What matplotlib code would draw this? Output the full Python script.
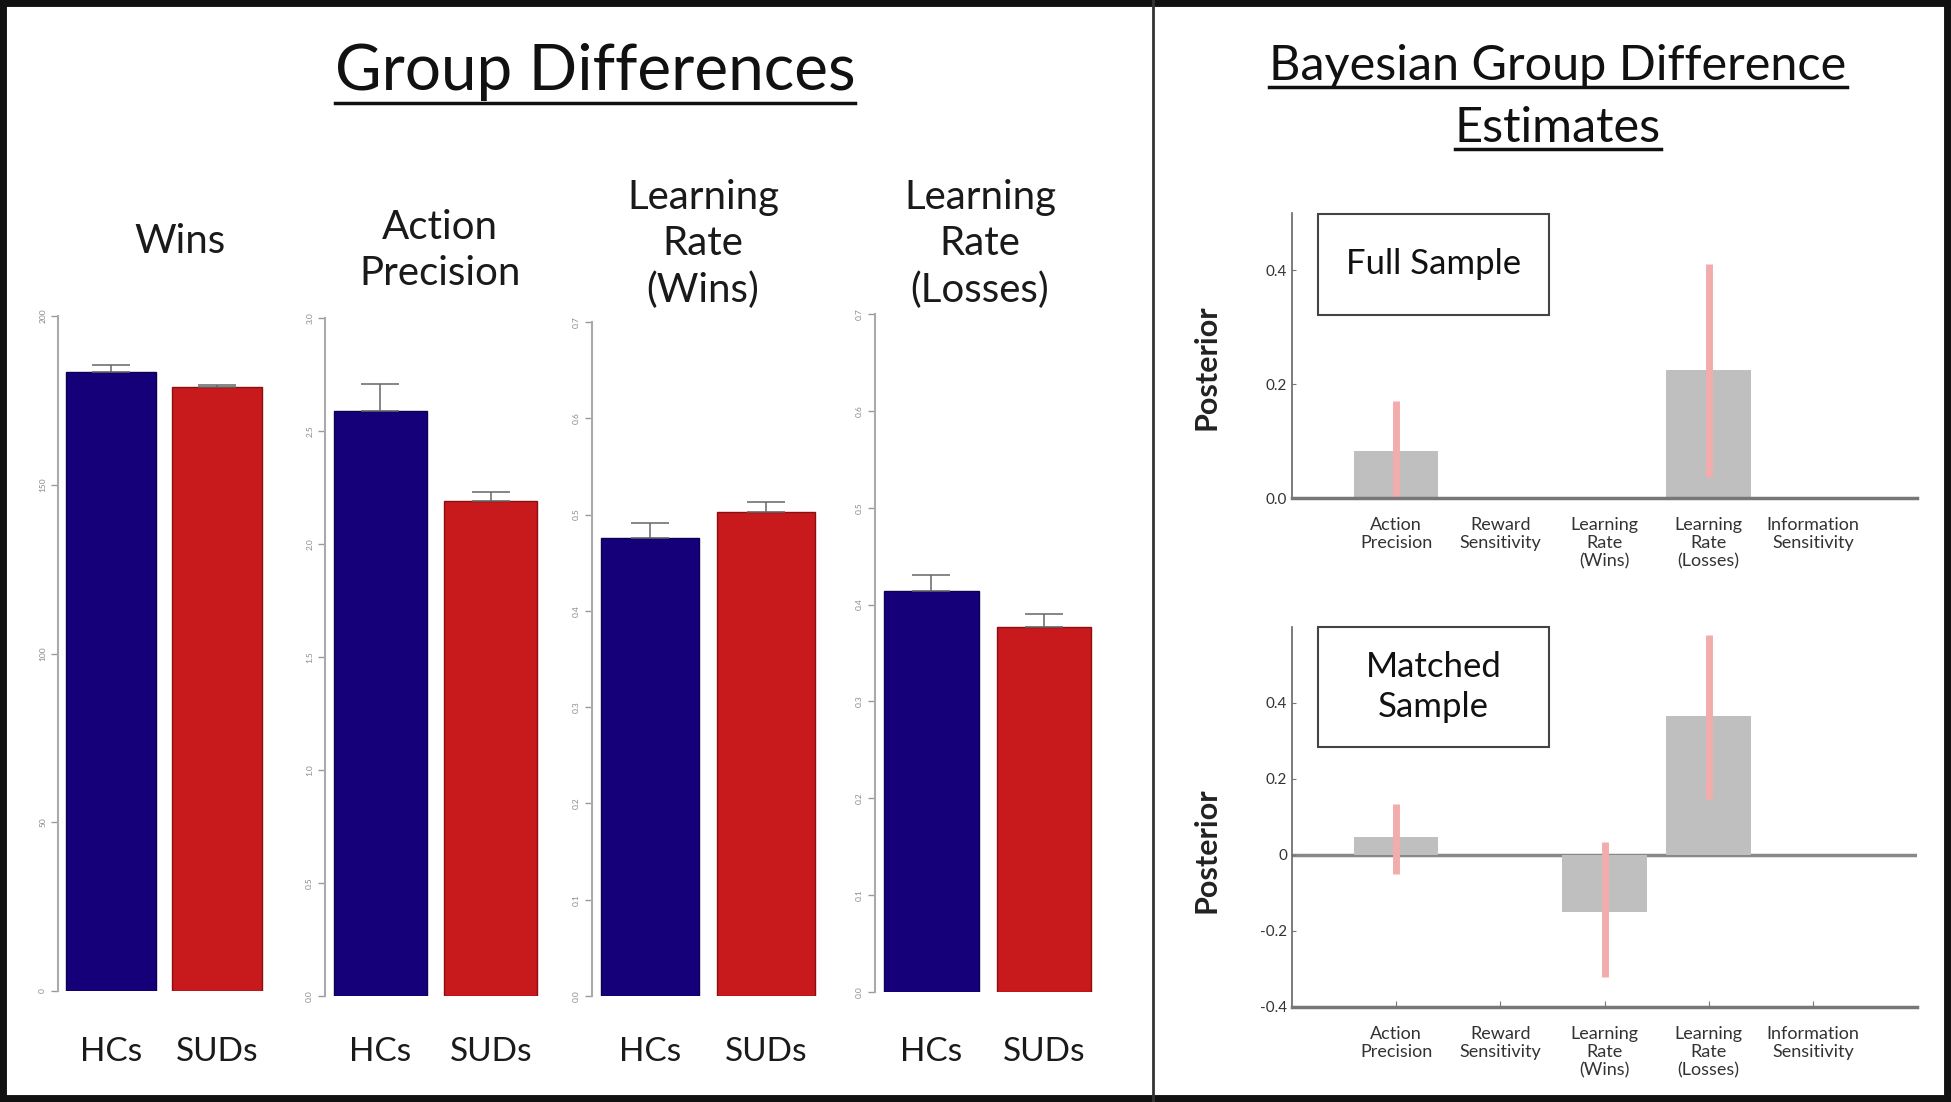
import matplotlib
matplotlib.use('Agg')
import matplotlib.pyplot as plt
from matplotlib.patches import Rectangle
from matplotlib.lines import Line2D

W, H = 1951, 1102
plt.rcParams['font.family'] = ['Lato', 'DejaVu Sans']

# left panel: group means (HCs, SUDs) with upper error bars
groups = ['HCs', 'SUDs']
measure_titles = ['Wins', 'Action\nPrecision', 'Learning\nRate\n(Wins)', 'Learning\nRate\n(Losses)']
group_means = [[183.4, 179.0], [2.59, 2.19], [0.476, 0.503], [0.414, 0.377]]
group_errs = [[2.1, 0.6], [0.12, 0.04], [0.015, 0.010], [0.017, 0.013]]
y_max = [200, 3.0, 0.7, 0.7]
y_step = [50, 0.5, 0.1, 0.1]

# right panel: posterior group difference estimates
params = ['Action\nPrecision', 'Reward\nSensitivity', 'Learning\nRate\n(Wins)',
          'Learning\nRate\n(Losses)', 'Information\nSensitivity']
full_mean = [0.082, 0.0, 0.0, 0.225, 0.0]
full_lo = [0.0, 0.0, 0.0, 0.037, 0.0]
full_hi = [0.17, 0.0, 0.0, 0.41, 0.0]
matched_mean = [0.047, 0.0, -0.15, 0.366, 0.0]
matched_lo = [-0.05, 0.0, -0.32, 0.147, 0.0]
matched_hi = [0.134, 0.0, 0.034, 0.58, 0.0]

HC_COLOR = '#15007a'
SUD_COLOR = '#c8191c'


def px_axes(fig, x0, y0, x1, y1):
    return fig.add_axes([x0 / W, 1 - y1 / H, (x1 - x0) / W, (y1 - y0) / H])


def fx(x):
    return x / W


def fy(y):
    return 1 - y / H


fig = plt.figure(figsize=(W / 100, H / 100), dpi=100)

# ---- left: group differences ----
left_boxes = [(58, 316, 270, 991), (325, 318, 546, 996), (592, 322, 824, 996), (875, 314, 1100, 992)]
title_x = [180, 440, 703, 980]
title_base = [253, 285, 302, 302]
label_top = 1037  # top of the HCs / SUDs labels, in pixels

for i, box in enumerate(left_boxes):
    ax = px_axes(fig, *box)
    xs = range(len(groups))
    ax.bar(xs, group_means[i], width=0.84, color=[HC_COLOR, SUD_COLOR],
           edgecolor=['#0c0050', '#8a1010'], linewidth=1)
    ax.errorbar(xs, group_means[i], yerr=[[0, 0], group_errs[i]], fmt='none',
                ecolor='#666666', elinewidth=1.1, capsize=14, capthick=1.1)
    ax.set_xlim(-0.5, 1.5)
    ax.set_ylim(0, y_max[i])
    ticks = [k * y_step[i] for k in range(int(round(y_max[i] / y_step[i])) + 1)]
    ax.set_yticks(ticks)
    if i == 0:
        ax.set_yticklabels([str(int(t)) for t in ticks])
    else:
        ax.set_yticklabels(['%.1f' % t for t in ticks])
    ax.tick_params(axis='y', labelsize=6, labelcolor='#888888', color='#999999',
                   length=5, width=1, labelrotation=90)
    for lab in ax.get_yticklabels():
        lab.set_va('center')
    ax.set_xticks(list(xs))
    ax.set_xticklabels(groups, fontsize=24, color='#1a1a1a')
    ax.tick_params(axis='x', length=0, pad=(label_top - box[3]) * 0.72)
    for s in ['top', 'right', 'bottom']:
        ax.spines[s].set_visible(False)
    ax.spines['left'].set_color('#aaaaaa')
    ax.spines['left'].set_linewidth(1.5)
    fig.text(fx(title_x[i]), fy(title_base[i]), measure_titles[i], ha='center',
             va='baseline', fontsize=29, linespacing=1.3, color='#1a1a1a')

# ---- right: Bayesian estimates ----
right_panels = [
    ((1292, 213, 1917, 498), full_mean, full_lo, full_hi, (0, 0.5),
     [0, 0.2, 0.4], ['0.0', '0.2', '0.4'], (1318, 214, 1549, 315), 'Full Sample', 367),
    ((1292, 627, 1917, 1007), matched_mean, matched_lo, matched_hi, (-0.4, 0.6),
     [-0.4, -0.2, 0, 0.2, 0.4], ['-0.4', '-0.2', '0', '0.2', '0.4'],
     (1318, 627, 1549, 747), 'Matched\nSample', 850),
]

for box, mean, lo, hi, ylim, yt, ytl, label_box, label, ylab_y in right_panels:
    ax = px_axes(fig, *box)
    xs = list(range(1, len(params) + 1))
    ax.bar(xs, mean, width=0.81, color='#bfbfbf', edgecolor='none')
    for x, a, b in zip(xs, lo, hi):
        if a != b:
            ax.vlines(x, a, b, color='#f3acac', linewidth=5)
    ax.set_xlim(0, 6)
    ax.set_ylim(*ylim)
    ax.set_yticks(yt)
    ax.set_yticklabels(ytl)
    ax.set_xticks(xs)
    ax.set_xticklabels(params, fontsize=13, color='#333333', linespacing=1.15)
    ax.tick_params(axis='y', labelsize=11, labelcolor='#333333', length=3,
                   direction='in', color='#777777')
    ax.tick_params(axis='x', length=4 if ylim[0] < 0 else 0, direction='in',
                   color='#777777', pad=14)
    for s in ['top', 'right']:
        ax.spines[s].set_visible(False)
    ax.spines['left'].set_color('#666666')
    ax.spines['left'].set_linewidth(1.2)
    ax.spines['bottom'].set_color('#777777')
    ax.spines['bottom'].set_linewidth(2.5)
    if ylim[0] < 0:
        ax.axhline(0, color='#888888', linewidth=2.5, zorder=0.5)
    ax.set_ylabel('Posterior', fontsize=22, fontweight='bold', color='#222222')
    ax.yaxis.set_label_coords((1220 - box[0]) / (box[2] - box[0]),
                              (box[3] - ylab_y) / (box[3] - box[1]))
    x0, y0, x1, y1 = label_box
    fig.add_artist(Rectangle((fx(x0), fy(y1)), (x1 - x0) / W, (y1 - y0) / H,
                             transform=fig.transFigure, fill=False,
                             edgecolor='#444444', linewidth=1.5))
    fig.text(fx((x0 + x1) / 2), fy((y0 + y1) / 2), label, ha='center', va='center',
             fontsize=25, linespacing=1.3, color='#111111')

# ---- headings with underlines ----
headings = [
    ('Group Differences', 595, 90, 103, 46),
    ('Bayesian Group Difference', 1558, 80, 87, 35),
    ('Estimates', 1558, 142, 149, 35),
]
head_texts = []
for txt, cx, base, uy, size in headings:
    t = fig.text(fx(cx), fy(base), txt, ha='center', va='baseline',
                 fontsize=size, color='#111111')
    head_texts.append((t, uy))

fig.canvas.draw()
renderer = fig.canvas.get_renderer()
for t, uy in head_texts:
    bb = t.get_window_extent(renderer)
    fig.add_artist(Line2D([bb.x0 / W, bb.x1 / W], [fy(uy), fy(uy)],
                          transform=fig.transFigure, color='#111111', linewidth=2.5))

# panel divider and outer frame
fig.add_artist(Line2D([fx(1153), fx(1153)], [0, 1], transform=fig.transFigure,
                      color='#333333', linewidth=2))
fig.add_artist(Rectangle((0, 0), 1, 1, transform=fig.transFigure, fill=False,
                         edgecolor='#111111', linewidth=10))

fig.savefig('out.png', dpi=100)
